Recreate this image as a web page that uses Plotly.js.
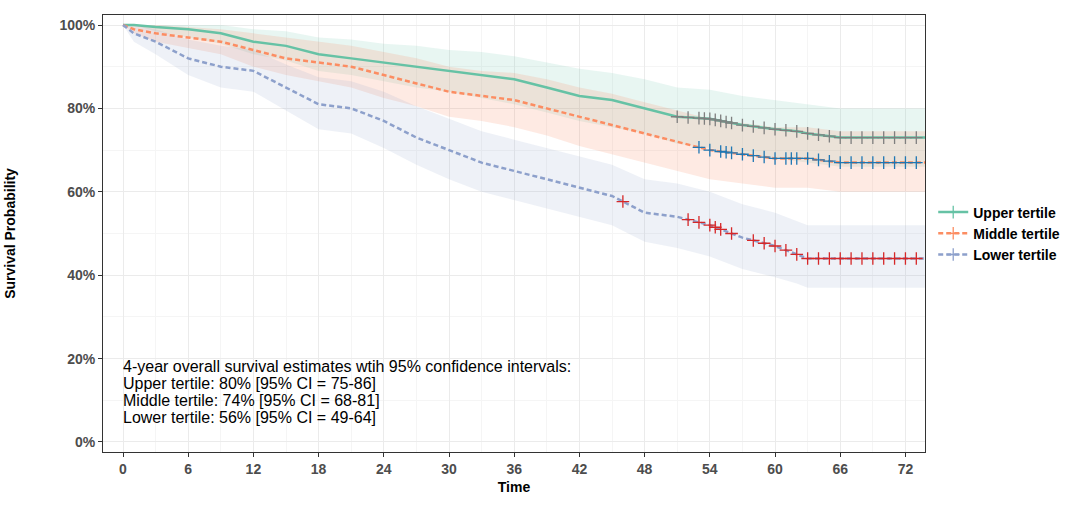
<!DOCTYPE html>
<html><head><meta charset="utf-8">
<script src="https://cdn.plot.ly/plotly-3.0.1.min.js"></script>
<style>body{margin:0;background:#fff}</style>
</head><body><div id="plot" style="width:1080px;height:506px"></div>
<script>
const times = [0, 1, 3, 6, 9, 12, 15, 18, 21, 24, 27, 30, 33, 36, 39, 42, 45, 48, 51, 54, 57, 60, 62, 63, 66, 73.8];

const upperSurv = [100, 100, 99.5, 99, 98, 96, 95, 93, 92, 91, 90, 89, 88, 87, 85, 83, 82, 80, 78, 77.5, 76, 75, 74.5, 74, 73, 73];
const upperLo = [100, 100, 98.5, 97, 95.5, 93, 91.5, 89, 88, 86.5, 85, 84, 82.5, 81, 79, 77, 75.5, 74, 71.5, 70.5, 69, 68, 67.5, 67, 66, 66];
const upperHi = [100, 100, 100, 100, 100, 99, 98.5, 97, 96.5, 95.5, 95, 94, 93.5, 92.5, 91, 89.5, 88.5, 87, 85, 84.5, 83, 82, 81.5, 81, 80, 80];

const middleSurv = [100, 99, 98, 97, 96, 94, 92, 91, 90, 88, 86, 84, 83, 82, 80, 78, 76, 74, 72, 70, 69, 68, 68, 68, 67, 67];
const middleLo = [100, 98, 96, 94.5, 93, 90, 88, 86.5, 85, 82.5, 80.5, 78, 77, 75.5, 73.5, 71, 69, 67, 65, 63, 62, 61, 61, 61, 60, 60];
const middleHi = [100, 100, 100, 99.5, 99, 98, 97, 96, 95, 93.5, 92, 90, 89, 88.5, 87, 85, 83.5, 81.5, 79.5, 77.5, 76.5, 75.5, 75.5, 75.5, 74.5, 74.5];

const lowerSurv = [100, 98, 96, 92, 90, 89, 85, 81, 80, 77, 73, 70, 67, 65, 63, 61, 59, 55, 54, 52, 49, 47, 45, 44, 44, 44];
const lowerLo = [100, 96, 93, 88, 85, 84, 79.5, 75, 74, 70.5, 66.5, 63, 60, 58, 56, 54, 52, 48, 46.5, 44.5, 41.5, 39.5, 38, 37, 37, 37];
const lowerHi = [100, 100, 99, 96.5, 95, 94, 90.5, 87.5, 86.5, 84, 80.5, 77.5, 74.5, 72.5, 70.5, 68.5, 66.5, 63, 62, 60, 57, 55, 53, 52, 52, 52];

const upperCens = [51, 52, 53, 53.5, 54, 54.5, 55, 55.5, 56, 57, 58, 59, 60, 61, 62, 63, 64, 65, 66, 67, 68, 69, 70, 71, 72, 73];
const middleCens = [53, 54, 55, 55.5, 56, 57, 58, 59, 60, 61, 61.5, 62, 63, 64, 65, 66, 67, 68, 69, 70, 71, 72, 73];
const lowerCens = [46, 52, 53, 54, 54.5, 55, 56, 58, 59, 60, 61, 62, 63, 64, 65, 66, 67, 68, 69, 70, 71, 72, 73];

const noteLines = [
	"4-year overall survival estimates wtih 95% confidence intervals:",
	"Upper tertile: 80% [95% CI = 75-86]",
	"Middle tertile: 74% [95% CI = 68-81]",
	"Lower tertile: 56% [95% CI = 49-64]",
];

const groups = [
	{ name: "Upper tertile", surv: upperSurv, lo: upperLo, hi: upperHi, cens: upperCens, color: "#66c2a5", band: "rgba(102,194,165,0.15)", dash: "solid" },
	{ name: "Middle tertile", surv: middleSurv, lo: middleLo, hi: middleHi, cens: middleCens, color: "#fc8d62", band: "rgba(252,141,98,0.18)", dash: "5px,3px" },
	{ name: "Lower tertile", surv: lowerSurv, lo: lowerLo, hi: lowerHi, cens: lowerCens, color: "#8da0cb", band: "rgba(141,160,203,0.15)", dash: "5px,3px" },
];

function survAt(t, s) {
	for (let i = 1; i < times.length; i++) {
		if (times[i] >= t) {
			const f = (t - times[i - 1]) / (times[i] - times[i - 1]);
			return s[i - 1] + f * (s[i] - s[i - 1]);
		}
	}
	return s[s.length - 1];
}

const data = [];
groups.forEach(g => {
	data.push({ x: times, y: g.lo.map(v => v / 100), mode: "lines", line: { width: 0 }, showlegend: false, hoverinfo: "skip" });
	data.push({ x: times, y: g.hi.map(v => v / 100), mode: "lines", line: { width: 0 }, fill: "tonexty", fillcolor: g.band, showlegend: false, hoverinfo: "skip" });
});
groups.forEach(g => {
	data.push({ x: times, y: g.surv.map(v => v / 100), mode: "lines", line: { color: g.color, width: 2.5, dash: g.dash }, showlegend: false });
	data.push({
		x: g.cens, y: g.cens.map(t => survAt(t, g.surv) / 100), mode: "markers", showlegend: false,
		marker: { symbol: "cross-thin-open", size: 9, line: { color: g.color, width: 1.3 } },
	});
	data.push({
		x: [null], y: [null], mode: "lines+markers", name: g.name,
		line: { color: g.color, width: 2.5, dash: g.dash },
		marker: { symbol: "cross-thin-open", size: 9, line: { color: g.color, width: 1.3 } },
	});
});

const axisFont = { family: "Liberation Sans, Arial", size: 14, color: "#4d4d4d", weight: "bold" };
const layout = {
	width: 1080, height: 506,
	margin: { l: 103, r: 155, t: 15, b: 54 },
	paper_bgcolor: "#fff", plot_bgcolor: "#fff",
	font: { family: "Liberation Sans, Arial" },
	xaxis: {
		range: [-1.84, 73.8], tickvals: [0, 6, 12, 18, 24, 30, 36, 42, 48, 54, 60, 66, 72],
		showgrid: true, gridcolor: "#ebebeb", zeroline: false, ticks: "outside", ticklen: 4, tickcolor: "#333",
		tickfont: axisFont, showline: true, mirror: true, linecolor: "#333", linewidth: 1,
		title: { text: "Time", font: { size: 14, color: "#000", weight: "bold" }, standoff: 6 },
		minor: { dtick: 3, showgrid: true, gridcolor: "#f5f5f5" },
	},
	yaxis: {
		range: [-0.024, 1.024], tickvals: [0, 0.2, 0.4, 0.6, 0.8, 1], tickformat: ".0%",
		showgrid: true, gridcolor: "#ebebeb", zeroline: false, ticks: "outside", ticklen: 4, tickcolor: "#333",
		tickfont: axisFont, showline: true, mirror: true, linecolor: "#333", linewidth: 1,
		title: { text: "Survival Probability", font: { size: 14, color: "#000", weight: "bold" }, standoff: 40 },
		minor: { dtick: 0.1, showgrid: true, gridcolor: "#f5f5f5" },
	},
	legend: { x: 1.01, y: 0.5, yanchor: "middle", font: { size: 14, color: "#000", weight: "bold" }, traceorder: "normal", tracegroupgap: 2 },
	annotations: noteLines.map((t, i) => ({
		xref: "x", yref: "y", x: -0.2, y: 0.18 - i * 0.0408, xanchor: "left", yanchor: "middle", showarrow: false,
		font: { size: 16, color: "#000", family: "Liberation Sans, Arial" }, text: t,
	})),
};

Plotly.newPlot("plot", data, layout, { displayModeBar: false, staticPlot: true });
</script></body></html>
